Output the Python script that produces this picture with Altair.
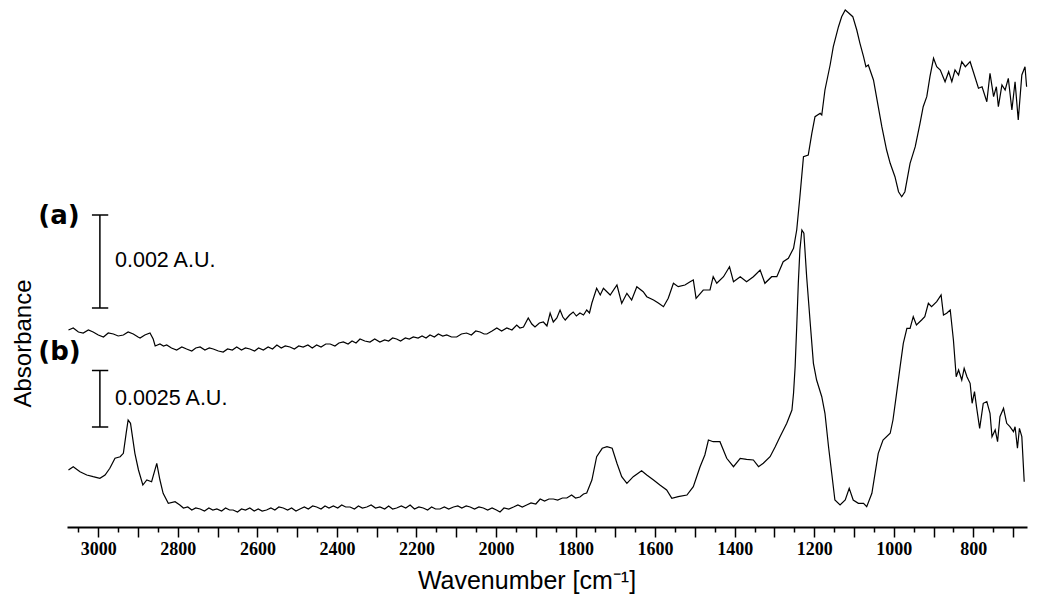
import altair as alt
import pandas as pd

# ---- trace (a): wavenumber [cm-1] and offset absorbance (display units) ----
A_WN = [3075, 3063, 3050, 3038, 3025, 3013, 3000, 2987, 2975, 2962, 2950, 2937, 2925, 2912, 2900, 2895, 2883, 2870, 2862, 2857,
        2845, 2836, 2828, 2816, 2803, 2790, 2778, 2765, 2755, 2744, 2732, 2721, 2711, 2698, 2686, 2675, 2663, 2652, 2640, 2630,
        2619, 2607, 2597, 2585, 2573, 2562, 2551, 2540, 2530, 2518, 2507, 2496, 2485, 2473, 2462, 2451, 2440, 2428, 2417, 2405,
        2395, 2384, 2372, 2362, 2352, 2342, 2330, 2317, 2305, 2292, 2280, 2270, 2260, 2250, 2240, 2228, 2218, 2208, 2196, 2186,
        2176, 2166, 2155, 2145, 2134, 2124, 2112, 2099, 2087, 2074, 2062, 2051, 2040, 2030, 2023, 2010, 1998, 1986, 1973, 1960,
        1948, 1940, 1931, 1919, 1910, 1902, 1891, 1881, 1872, 1864, 1856, 1847, 1839, 1832, 1826, 1815, 1806, 1798, 1789, 1780,
        1772, 1765, 1759,
        1747, 1738, 1730, 1713, 1696, 1684, 1671, 1659, 1646, 1630, 1621, 1604, 1592, 1579, 1567, 1554, 1542, 1525, 1512, 1504,
        1497, 1479, 1462, 1454, 1445, 1428, 1413, 1403, 1386, 1370, 1353, 1336, 1324, 1307, 1294, 1278, 1265, 1252, 1244, 1236,
        1227, 1215, 1206, 1198, 1185, 1181, 1173, 1160, 1152, 1139, 1131, 1122, 1114, 1103, 1093, 1085, 1076, 1070, 1064, 1051,
        1039, 1030, 1018, 1009, 997, 988, 980, 972, 959, 946, 934, 926, 917, 909, 900, 892, 883, 871, 862, 854,
        846, 837, 829, 820, 808, 800, 787, 778, 766, 758, 749, 742, 737, 728, 720, 712, 703, 695, 687, 678,
        670, 666]
A_Y = [197, 199, 195, 194, 197, 195, 192, 190, 194, 193, 191, 192, 195, 193, 190, 189, 192, 194, 188, 181,
       183, 181, 182, 179, 177, 180, 178, 176, 179, 180, 177, 179, 178, 176, 175, 178, 177, 180, 177, 179,
       178, 176, 179, 177, 180, 178, 182, 179, 181, 180, 178, 181, 180, 182, 179, 182, 180, 183, 183, 181,
       184, 185, 183, 186, 184, 188, 186, 185, 188, 185, 187, 186, 189, 188, 186, 189, 188, 190, 189, 191,
       189, 192, 190, 193, 191, 192, 190, 190, 193, 194, 192, 196, 195, 193, 193, 196, 199, 196, 199, 197,
       202, 199, 200, 209, 203, 200, 204, 205, 201, 214, 205, 209, 217, 210, 207, 212, 215, 211, 214, 212,
       217, 214, 224,
       238.7, 232, 238.7, 232, 242, 223.7, 233.7, 227, 240.3, 235.3, 230.3, 227, 224, 220.3, 228.7, 243.7, 240.3, 242, 245.3, 247,
       228.7, 237, 237, 250.3, 243.7, 250.3, 260.3, 245.3, 250.3, 245.3, 250.3, 257, 243.7, 250.3, 250.3, 265.3, 268.7, 278.7, 297, 330.3,
       370.3, 372, 393.7, 410.3, 413.7, 412, 437, 462, 480.3, 500.3, 510.3, 517, 514.3, 510.3, 497, 483.7, 470.3, 460.3, 462, 447,
       420.3, 400.3, 377, 363.7, 350.3, 335.3, 330.3, 335.3, 363.7, 380.3, 403.7, 420.3, 430.3, 450.3, 468.7, 460.3, 457, 445.3, 455.3, 445.3,
       457, 452, 465.3, 460.3, 465.3, 455.3, 438.7, 440.3, 425.3, 453.7, 430.3, 440.3, 420.3, 442, 437, 448.7, 417, 445.3, 407, 452,
       460.3, 440.3]

# ---- trace (b) ----
B_WN = [3075, 3063, 3046, 3029, 3013, 2996, 2983, 2971, 2958, 2945, 2937, 2930, 2925, 2919, 2908, 2899, 2888, 2878, 2866, 2853,
        2845, 2837, 2824, 2807,
        2795, 2786, 2775, 2765, 2755, 2744, 2733, 2722, 2712, 2702,
        2690, 2680, 2670, 2661, 2650, 2640, 2630, 2619, 2608, 2598,
        2588, 2577, 2566, 2556, 2546, 2535, 2524, 2514, 2503, 2493,
        2482, 2472, 2461, 2451, 2440, 2430, 2420, 2409, 2398, 2388,
        2378, 2367, 2356, 2346, 2336, 2325, 2314, 2303, 2292, 2280,
        2270, 2260, 2250, 2238, 2227, 2216, 2205, 2194, 2183, 2172,
        2162, 2152, 2141, 2130, 2119, 2107, 2096, 2086, 2075, 2065,
        2054, 2043, 2032, 2021, 2010, 1999, 1990, 1980, 1968, 1956,
        1945, 1934, 1923, 1912, 1900, 1889, 1878, 1867, 1856, 1845,
        1833, 1822, 1810, 1800, 1789, 1780, 1772,
        1759, 1747, 1733, 1721, 1708, 1696, 1684, 1671, 1655, 1634, 1621, 1604, 1588, 1571, 1558, 1542, 1520, 1504, 1487, 1475,
        1466, 1454, 1437, 1420, 1403, 1386, 1370, 1353, 1340, 1328, 1311, 1298, 1286, 1269, 1256, 1252, 1248, 1244, 1240, 1236,
        1231, 1226, 1219, 1210, 1202, 1194, 1181, 1173, 1164, 1156, 1148, 1135, 1122, 1112, 1102, 1089, 1076, 1068, 1055, 1047,
        1039, 1027, 1009, 1002, 994, 984, 976, 967, 959, 951, 943, 930, 922, 913, 905, 892, 881, 875, 867, 858,
        850, 843, 837, 829, 823, 816, 808, 803, 797, 792, 784, 775, 766, 758, 753, 745, 739, 733, 724, 716,
        708, 699, 695, 689, 684, 678, 672]
B_Y = [57, 60.3, 55.3, 52, 50.3, 48.7, 52, 58.7, 68.7, 70.3, 73.7, 93.7, 107, 103.7, 73.7, 57, 42, 47, 45.3, 63.7,
       47, 33.7, 23.7, 25.3,
       22, 19, 20, 17, 19, 18, 16, 19, 17, 18,
       16, 19, 17, 17, 15, 18, 17, 19, 16, 18,
       16, 17, 19, 17, 20, 19, 17, 19, 16, 18,
       20, 18, 21, 20, 18, 21, 19, 21, 19, 22,
       20, 20, 18, 21, 19, 20, 22, 19, 20, 18,
       21, 18, 19, 21, 19, 22, 18, 20, 19, 17,
       20, 18, 18, 20, 18, 20, 21, 19, 21, 20,
       18, 20, 19, 17, 19, 17, 15, 19, 18, 20,
       22, 20, 22, 24, 23, 28, 26, 28, 28, 27,
       29, 29, 32, 29, 30, 33, 34,
       47, 70.3, 78.7, 80.3, 78.7, 63.7, 50.3, 43.7, 50.3, 56.3, 52, 47, 42, 37, 28.7, 30.3, 32, 40.3, 60.3, 72,
       87, 85.3, 85.3, 68.7, 60.3, 68.7, 67.7, 67, 60.3, 63.7, 70.3, 80.3, 90.3, 103.7, 117, 133.7, 160.3, 200.3, 243.7, 277,
       297, 293.7, 250.3, 203.7, 163.7, 147, 130.3, 113.7, 80.3, 53.7, 27, 22, 27, 38.7, 27, 23.7, 23.7, 20.3, 33.7, 53.7,
       73.7, 87, 93.7, 107, 130.3, 160.3, 183.7, 198.7, 198.7, 210.3, 202, 207, 210.3, 223.7, 220.3, 225.3, 232, 212, 213.7, 217,
       187, 150.3, 157, 147, 158.7, 150.3, 143.7, 123.7, 135.3, 120.3, 98.7, 123.7, 125.3, 113.7, 90.3, 97, 85.3, 110.3, 118.7, 103.7,
       100.3, 95.3, 100.3, 78.7, 98.7, 90.3, 45.3]

assert len(A_WN) == len(A_Y), (len(A_WN), len(A_Y))
assert len(B_WN) == len(B_Y), (len(B_WN), len(B_Y))

# ---- annotations (scale bars and labels) ----
BAR_WN = [2996, 2996]
BAR_LO = [219, 100]
BAR_HI = [312, 156.5]
CAP_L = [3016, 3016, 3016, 3016]
CAP_R = [2975, 2975, 2975, 2975]
CAP_Y = [219, 312, 100, 156.5]
SB_TEXT = ["0.002 A.U.", "0.0025 A.U."]
SB_WN = [2958, 2958]
SB_Y = [266, 128]
LBL_TEXT = ["(a)", "(b)"]
LBL_WN = [3151, 3151]
LBL_Y = [311, 175]

MAJOR = list(range(700, 3001, 100))
MINOR = list(range(750, 3051, 100))

df = pd.concat([
    pd.DataFrame({"wn": A_WN, "abs": A_Y, "trace": "a"}),
    pd.DataFrame({"wn": B_WN, "abs": B_Y, "trace": "b"}),
])
bars = pd.DataFrame({"wn": BAR_WN, "lo": BAR_LO, "hi": BAR_HI})
caps = pd.DataFrame({"wn": CAP_L, "wn2": CAP_R, "y": CAP_Y})
sbt = pd.DataFrame({"wn": SB_WN, "y": SB_Y, "t": SB_TEXT})
lbl = pd.DataFrame({"wn": LBL_WN, "y": LBL_Y, "t": LBL_TEXT})

xs = alt.Scale(domain=[3078.7, 665], nice=False, zero=False)
ys = alt.Scale(domain=[0, 519], nice=False, zero=False)

x_main = alt.X("wn:Q", scale=xs, axis=alt.Axis(
    values=MAJOR, format="d", labelExpr="datum.value % 200 === 0 ? datum.label : ''",
    tickSize=10, tickWidth=1.5, tickColor="black", domainWidth=2, domainColor="black",
    labelFont="Liberation Serif", labelFontWeight="bold", labelFontSize=18, labelColor="black",
    labelPadding=3, grid=False, orient="bottom",
    title="Wavenumber [cm⁻¹]", titleFont="Liberation Sans", titleFontSize=25,
    titleFontWeight="normal", titleColor="black", titleX=459.5, titleY=61,
    titleBaseline="alphabetic", titleAlign="center"))
y_main = alt.Y("abs:Q", scale=ys, axis=alt.Axis(
    labels=False, ticks=False, domain=False, grid=False, title="Absorbance",
    titleFont="Liberation Sans", titleFontSize=24, titleFontWeight="normal", titleColor="black",
    titleX=-44, titleY=335, titleBaseline="middle", titleAlign="center", titleAngle=270))

lines = alt.Chart(df).mark_line(color="black", strokeWidth=1.2).encode(
    x=x_main, y=y_main, detail="trace:N", order="wn:Q")

x_minor = alt.X("wn:Q", scale=xs, axis=alt.Axis(
    values=MINOR, labels=False, tickSize=5, tickWidth=1.5, tickColor="black",
    domain=False, grid=False, title=None, orient="bottom"))

bar_rules = alt.Chart(bars).mark_rule(color="black", strokeWidth=1.5).encode(
    x=x_minor, y=alt.Y("lo:Q", scale=ys, axis=None), y2="hi:Q")
cap_rules = alt.Chart(caps).mark_rule(color="black", strokeWidth=1.5).encode(
    x=alt.X("wn:Q", scale=xs, axis=None), x2="wn2:Q", y=alt.Y("y:Q", scale=ys, axis=None))
sb_text = alt.Chart(sbt).mark_text(align="left", baseline="middle", fontSize=21.5,
                                   font="Liberation Sans", color="black").encode(
    x=alt.X("wn:Q", scale=xs, axis=None), y=alt.Y("y:Q", scale=ys, axis=None), text="t:N")
lbl_text = alt.Chart(lbl).mark_text(align="left", baseline="middle", fontSize=26,
                                    fontWeight="bold", font="DejaVu Sans", color="black").encode(
    x=alt.X("wn:Q", scale=xs, axis=None), y=alt.Y("y:Q", scale=ys, axis=None), text="t:N")

chart = alt.layer(lines, bar_rules, cap_rules, sb_text, lbl_text).resolve_axis(
    x="independent", y="independent").properties(
    width=960, height=519,
    autosize=alt.AutoSizeParams(type="none"),
    padding={"left": 59, "top": 0, "right": 15, "bottom": 67},
    background="white",
).configure_view(stroke=None)

chart.save("out.html", embed_options={"renderer": "svg", "actions": False})
